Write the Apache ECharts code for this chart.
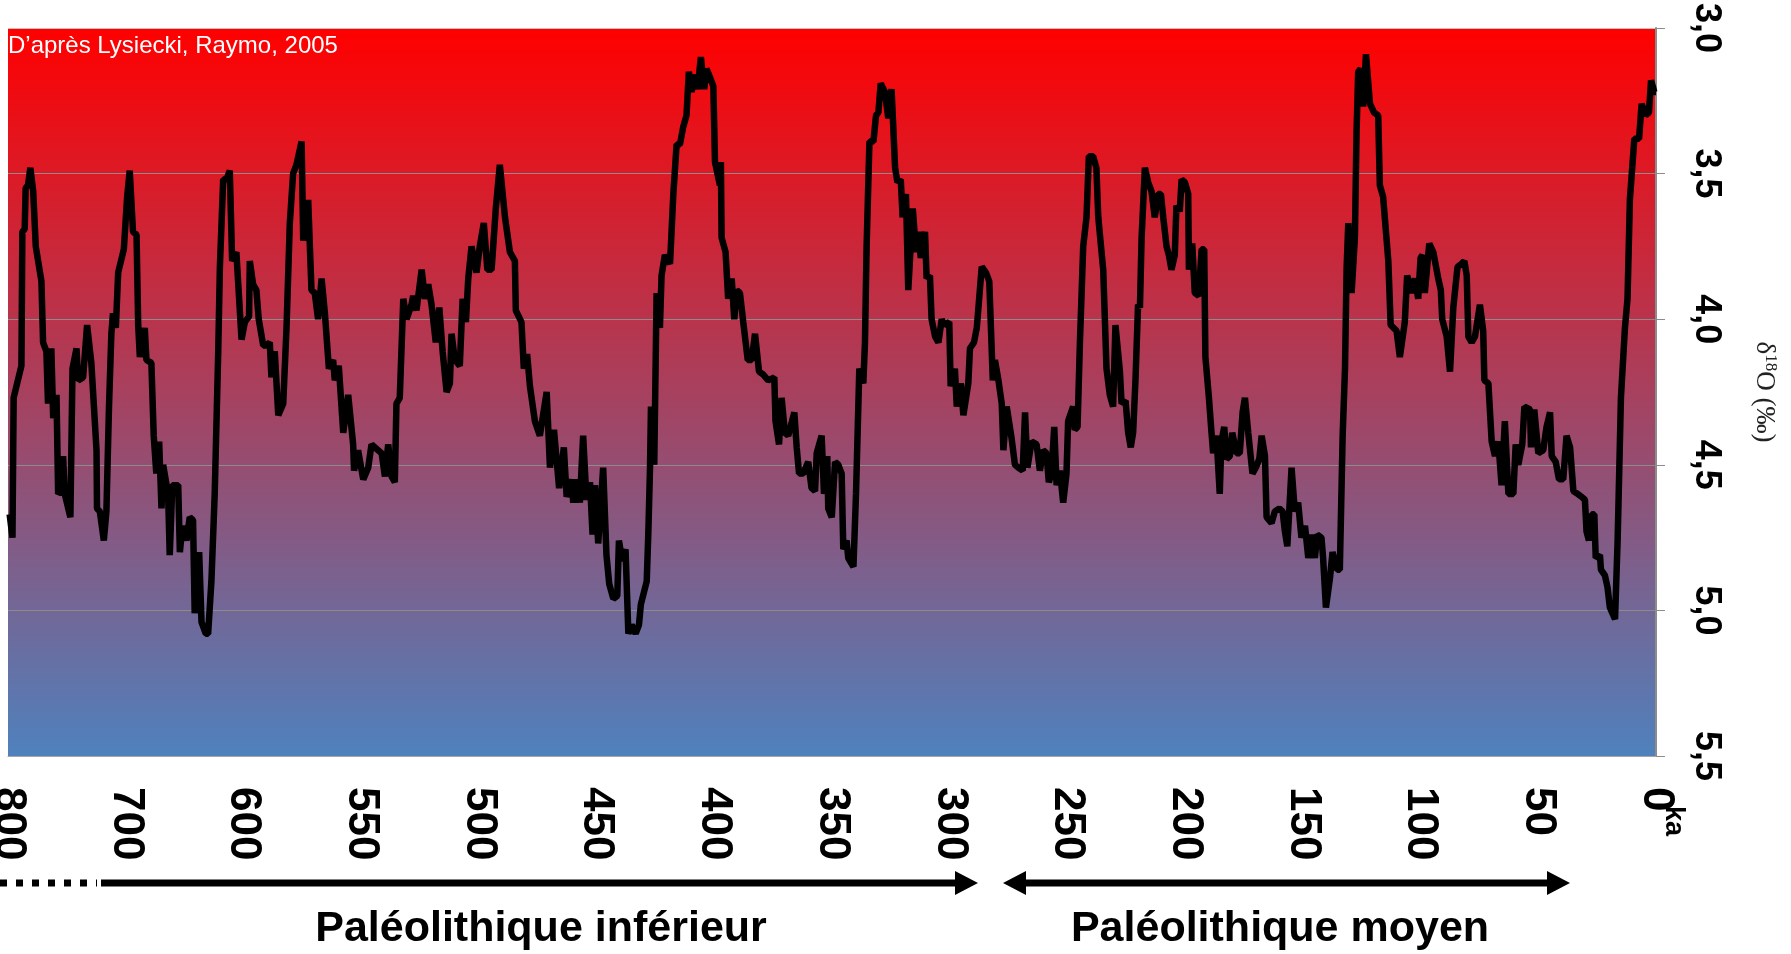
<!DOCTYPE html>
<html>
<head>
<meta charset="utf-8">
<script src="https://cdn.jsdelivr.net/npm/echarts@6/dist/echarts.min.js"></script>
<style>
  body { margin: 0; background: #fff; }
  #chart { width: 1791px; height: 954px; }
</style>
</head>
<body>
<div id="chart"></div>
<script>
// age (ka) and benthic d18O (permil)
const ages = [
  699.3, 698.1, 697.6, 694.3, 693.9, 692.9, 692.5, 691.5, 690.5, 689.3, 688.2, 685.8, 685.1, 683.7, 683.0, 681.6,
  680.8, 679.4, 678.7, 677.3, 676.6, 675.9, 673.5, 672.6, 670.9, 670.2, 668.1, 666.4, 664.6, 662.4, 662.2, 661.0,
  659.3, 658.2, 657.1, 656.1, 655.4, 654.2, 653.2, 650.8, 649.4, 648.3, 646.9, 645.4, 644.7, 644.0, 641.9, 641.2,
  639.1, 638.1, 637.0, 635.8, 634.8, 634.1, 632.0, 631.3, 630.2, 627.7, 627.0, 625.9, 624.2, 622.8, 621.4, 620.7,
  618.8, 617.8, 616.0, 615.0,
  613.6, 612.2, 610.7, 610.0, 608.6, 607.2, 605.8, 604.8, 603.0, 600.8, 599.4, 597.6, 597.3, 595.9, 594.5, 593.5,
  591.6, 590.2, 588.8, 588.1, 586.7, 585.2, 583.1, 581.7, 580.3, 578.9, 577.5, 575.3, 574.6, 572.5, 571.1, 569.7,
  568.3, 566.8, 565.4, 563.7, 561.9, 561.2, 559.5, 557.6, 555.5, 553.4, 553.0, 551.3, 549.1, 547.0, 545.6, 542.8,
  541.3, 539.9, 538.5, 537.1, 535.7, 535.0, 533.6, 532.1, 530.7,
  528.6, 527.9, 526.5, 524.3, 522.9, 521.5, 520.1, 518.3, 516.8, 515.4, 513.7, 512.3, 511.6, 510.2, 508.1, 506.9,
  505.5, 504.5, 503.1, 501.0, 499.6, 497.9, 496.4, 494.6, 492.8, 491.1, 488.9, 486.8, 484.7, 484.3, 481.9, 480.9,
  479.5, 478.3, 476.2, 474.1, 471.2, 469.8, 468.1, 465.9, 463.9, 462.7, 460.6, 459.9, 458.5, 457.1, 455.7, 454.3,
  452.8, 451.7, 450.7, 449.3, 447.2, 445.8, 444.6, 442.9, 441.2,
  440.5, 439.1, 437.7, 436.5, 435.1, 433.4, 432.0, 431.2, 428.7, 428.0, 427.3, 426.9, 425.5, 424.5, 423.1, 422.4,
  421.0, 418.8, 417.4, 416.0, 414.6, 413.2, 411.8, 410.8, 409.6, 408.5, 407.1, 405.7, 404.3, 403.3, 401.8, 400.4,
  399.7, 397.6, 397.2, 396.9, 395.2, 394.1, 392.6, 391.5, 390.5, 389.1, 387.7, 385.8, 384.1, 382.7, 381.0, 379.2,
  377.1, 374.5, 374.0, 372.5, 371.4, 370.0, 368.6, 366.0, 365.0, 364.0, 362.2, 360.1, 358.7, 357.2, 356.5,
  354.4, 353.4, 352.0, 351.6, 350.1, 348.7, 347.3, 345.9, 345.2, 343.8, 343.1, 340.9, 339.8, 338.4, 336.7, 336.0,
  335.3, 334.1, 332.4, 331.3, 330.3, 329.3, 327.5, 326.1, 324.7, 323.2, 322.2, 320.8, 320.0, 318.6, 317.6, 315.7,
  314.3, 313.3, 312.3, 310.5, 309.8, 308.4, 307.7, 306.2, 304.8, 303.4, 302.4, 300.2, 299.6, 297.8, 297.0, 295.3,
  294.2, 292.1, 291.4, 289.7, 288.5, 286.4, 284.6, 283.2, 281.7, 280.8, 279.3, 277.9, 277.2, 275.8, 273.7, 272.3,
  270.8, 269.0, 268.0, 267.0, 265.2,
  263.1, 261.7, 260.3, 258.9, 257.9, 256.8, 255.6, 254.6, 253.2, 251.8, 250.4, 249.7, 247.6, 246.9, 245.7, 244.7,
  243.3, 241.9, 240.9, 239.1, 237.7, 236.9, 234.8, 233.4, 232.0, 230.6, 229.6, 227.7, 227.0, 225.3, 224.2, 223.1,
  222.1, 221.1, 220.0, 219.2, 218.5, 217.1, 215.7, 214.3, 212.9, 211.5, 210.3, 209.3, 207.9, 206.9, 205.8, 204.4,
  203.7, 202.3, 201.5, 200.1, 198.7, 198.4, 197.0, 195.9, 194.2, 193.0, 191.9, 191.4, 189.9, 188.8, 188.1, 186.7,
  185.3, 184.6, 183.4, 182.4, 181.0, 180.0,
  178.2, 176.8, 175.6, 174.6, 173.2, 171.4, 170.0, 168.5, 167.5, 166.1, 165.4, 163.3, 161.9, 160.0, 158.6, 157.6,
  156.6, 154.8, 153.4, 152.0, 150.6, 149.1, 147.7, 146.3, 144.9, 143.9, 142.1, 141.4, 140.2, 138.5, 137.4, 135.4,
  134.3, 133.1, 132.1, 131.4, 130.7, 129.3, 127.9, 127.2, 126.5, 125.5, 124.4, 123.2, 121.5, 119.8, 118.0, 117.3,
  115.9, 113.7, 112.7, 110.2, 108.8, 106.7, 105.7, 103.8, 102.4, 101.0, 100.0, 99.2, 98.2, 96.3, 94.6,
  92.5, 91.4, 90.8, 88.9, 87.5, 86.1, 84.3, 82.6, 81.4, 80.4, 79.7, 78.3, 76.9, 74.8, 73.4, 72.9,
  71.2, 69.8, 68.4, 67.0, 65.6, 64.2, 62.7, 60.6, 59.6, 58.5, 56.8, 55.9, 53.5, 53.1, 51.7, 50.0,
  47.9, 46.5, 45.0, 44.3, 42.6, 41.2, 39.4, 38.0, 36.5, 35.1, 33.3, 31.6, 30.2, 29.5, 28.5, 27.3,
  26.2, 25.6, 23.8, 23.4, 21.7, 20.6, 19.6, 17.4, 16.3, 14.9, 13.2, 12.1, 11.1, 9.2, 7.2, 6.1,
  4.4, 3.0, 2.1, 0.7, 0.0
];
const d18O = [
  4.67, 4.75, 4.27, 4.16, 3.70, 3.69, 3.55, 3.54, 3.48, 3.56, 3.75, 3.87, 4.08, 4.11, 4.29, 4.10,
  4.34, 4.26, 4.60, 4.59, 4.47, 4.60, 4.68, 4.17, 4.10, 4.21, 4.20, 4.02, 4.15, 4.45, 4.65, 4.66,
  4.76, 4.66, 4.30, 4.05, 3.98, 4.03, 3.84, 3.76, 3.58, 3.49, 3.70, 3.71, 4.02, 4.13, 4.03, 4.14,
  4.15, 4.40, 4.53, 4.42, 4.65, 4.50, 4.60, 4.81, 4.57, 4.57, 4.80, 4.71, 4.76, 4.68, 4.69, 5.01,
  4.80, 5.04, 5.08, 5.08,
  4.90, 4.60, 4.11, 3.82, 3.52, 3.52, 3.49, 3.80, 3.77, 4.07, 4.01, 3.99, 3.80, 3.88, 3.90, 4.00,
  4.09, 4.09, 4.08, 4.20, 4.11, 4.33, 4.29, 4.03, 3.67, 3.50, 3.47, 3.39, 3.73, 3.59, 3.90, 3.91,
  4.00, 3.86, 3.98, 4.17, 4.14, 4.21, 4.16, 4.39, 4.26, 4.43, 4.52, 4.45, 4.55, 4.51, 4.43, 4.45,
  4.46, 4.54, 4.43, 4.54, 4.56, 4.29, 4.27, 3.93, 4.00,
  3.95, 3.92, 3.97, 3.83, 3.93, 3.88, 3.95, 4.08, 3.96, 4.11, 4.25, 4.22, 4.05, 4.14, 4.16, 3.93,
  4.01, 3.86, 3.75, 3.84, 3.75, 3.67, 3.83, 3.83, 3.62, 3.47, 3.65, 3.77, 3.80, 3.97, 4.01, 4.17,
  4.12, 4.23, 4.35, 4.40, 4.25, 4.51, 4.38, 4.58, 4.44, 4.61, 4.55, 4.63, 4.55, 4.63, 4.40, 4.62,
  4.56, 4.74, 4.57, 4.77, 4.51, 4.81, 4.91, 4.96, 4.95,
  4.76, 4.83, 4.79, 5.08, 5.05, 5.08, 5.05, 4.98, 4.90, 4.73, 4.51, 4.30, 4.50, 3.91, 4.03, 3.85,
  3.78, 3.81, 3.57, 3.40, 3.40, 3.34, 3.30, 3.15, 3.22, 3.16, 3.21, 3.10, 3.21, 3.14, 3.17, 3.20,
  3.46, 3.54, 3.46, 3.72, 3.77, 3.93, 3.86, 4.00, 3.90, 3.91, 4.01, 4.14, 4.14, 4.05, 4.18, 4.19,
  4.21, 4.20, 4.35, 4.43, 4.27, 4.39, 4.40, 4.32, 4.44, 4.53, 4.53, 4.49, 4.58, 4.59, 4.46,
  4.40, 4.60, 4.47, 4.65, 4.68, 4.49, 4.50, 4.53, 4.79, 4.76, 4.82, 4.85, 4.60, 4.17, 4.22, 4.08,
  3.75, 3.39, 3.39, 3.30, 3.29, 3.19, 3.22, 3.31, 3.21, 3.48, 3.53, 3.52, 3.65, 3.57, 3.90, 3.62,
  3.77, 3.70, 3.79, 3.70, 3.86, 3.85, 4.00, 4.06, 4.08, 4.00, 4.02, 4.01, 4.23, 4.17, 4.30, 4.22,
  4.33, 4.22, 4.10, 4.08, 4.03, 3.82, 3.84, 3.87, 4.21, 4.14, 4.21, 4.29, 4.45, 4.30, 4.41, 4.50,
  4.51, 4.52, 4.32, 4.51, 4.42,
  4.43, 4.52, 4.45, 4.46, 4.56, 4.53, 4.37, 4.57, 4.52, 4.63, 4.53, 4.35, 4.30, 4.38, 4.37, 4.08,
  3.75, 3.65, 3.44, 3.44, 3.48, 3.65, 3.83, 4.17, 4.26, 4.30, 4.02, 4.18, 4.29, 4.28, 4.39, 4.44,
  4.39, 4.21, 3.95, 3.96, 3.72, 3.48, 3.53, 3.56, 3.65, 3.57, 3.57, 3.65, 3.75, 3.78, 3.83, 3.78,
  3.61, 3.63, 3.52, 3.53, 3.57, 3.83, 3.74, 3.91, 3.92, 3.76, 3.76, 4.13, 4.27, 4.39, 4.46, 4.40,
  4.60, 4.42, 4.37, 4.48, 4.47, 4.39,
  4.46, 4.46, 4.32, 4.27, 4.39, 4.53, 4.51, 4.48, 4.40, 4.47, 4.68, 4.70, 4.66, 4.65, 4.66, 4.73,
  4.78, 4.51, 4.66, 4.63, 4.75, 4.71, 4.82, 4.74, 4.82, 4.74, 4.75, 4.82, 4.99, 4.89, 4.80, 4.86,
  4.86, 4.40, 4.17, 3.82, 3.67, 3.91, 3.72, 3.36, 3.15, 3.14, 3.27, 3.09, 3.26, 3.29, 3.30, 3.54,
  3.58, 3.80, 4.02, 4.04, 4.13, 4.01, 3.85, 3.91, 3.86, 3.93, 3.79, 3.78, 3.91, 3.74, 3.77,
  3.86, 3.90, 4.00, 4.06, 4.18, 3.96, 3.82, 3.81, 3.80, 3.85, 4.06, 4.08, 4.06, 3.95, 4.04, 4.21,
  4.22, 4.42, 4.47, 4.42, 4.57, 4.35, 4.60, 4.60, 4.43, 4.50, 4.43, 4.30, 4.31, 4.44, 4.31, 4.46,
  4.45, 4.37, 4.32, 4.47, 4.49, 4.55, 4.55, 4.40, 4.44, 4.59, 4.60, 4.61, 4.62, 4.73, 4.76, 4.67,
  4.67, 4.82, 4.81, 4.86, 4.88, 4.92, 4.99, 5.03, 4.76, 4.27, 4.03, 3.93, 3.59, 3.38, 3.38, 3.26,
  3.30, 3.29, 3.18, 3.22, 3.22
];

// tick positions (ka) and the labels printed under them
const xTickValues = [700, 650, 600, 550, 500, 450, 400, 350, 300, 250, 200, 150, 100, 50, 0];
const xTickText = ['800', '700', '600', '550', '500', '450', '400', '350', '300', '250', '200', '150', '100', '50', '0'];
const yTickText = ['3,0', '3,5', '4,0', '4,5', '5,0', '5,5'];

const font = "'Liberation Sans', Arial, sans-serif";
const serif = "'Liberation Serif', 'Times New Roman', serif";
const chart = echarts.init(document.getElementById('chart'));

const option = {
  animation: false,
  grid: {
    left: 8,
    right: 135,
    top: 28,
    bottom: 198,
    containLabel: false,
    outerBoundsMode: 'none',
    show: true,
    borderWidth: 0,
    backgroundColor: {
      type: 'linear', x: 0, y: 0, x2: 0, y2: 1,
      colorStops: [
        { offset: 0, color: '#ff0000' },
        { offset: 1, color: '#4f81bd' }
      ]
    }
  },
  xAxis: {
    type: 'value',
    min: 0,
    max: 700,
    interval: 50,
    inverse: true,
    axisLine: { show: true, lineStyle: { color: '#a6a6a6', width: 1 } },
    axisTick: { show: false },
    splitLine: { show: false },
    axisLabel: {
      rotate: -90,
      margin: 31,
      showMinLabel: true,
      showMaxLabel: true,
      color: '#000',
      fontFamily: font,
      fontWeight: 'bold',
      fontSize: 44,
      formatter: v => {
        const i = xTickValues.indexOf(v);
        return i >= 0 ? xTickText[i] : '';
      }
    }
  },
  yAxis: {
    type: 'value',
    position: 'right',
    inverse: true,
    min: 3,
    max: 5.5,
    interval: 0.5,
    axisLine: { show: true, lineStyle: { color: '#8c8c8c', width: 2 } },
    axisTick: { show: true, length: 9, lineStyle: { color: '#8c8c8c' } },
    splitLine: {
      show: true,
      lineStyle: { color: ['#c4c4c4', '#8c8c8c', '#8c8c8c', '#8c8c8c', '#8c8c8c', '#8c8c8c'], width: 1 }
    },
    axisLabel: {
      rotate: -90,
      margin: 32,
      color: '#000',
      fontFamily: font,
      fontWeight: 'bold',
      fontSize: 36,
      formatter: v => yTickText[Math.round((v - 3) / 0.5)]
    },
    name: '{d|δ}{s|18}{d|O (‰)}',
    nameLocation: 'middle',
    nameRotate: -90,
    nameGap: 93,
    nameTextStyle: {
      rich: {
        d: { fontFamily: serif, fontSize: 27, color: '#222', lineHeight: 30 },
        s: { fontFamily: serif, fontSize: 17, color: '#222', verticalAlign: 'top', lineHeight: 30 }
      }
    }
  },
  series: [
    {
      type: 'line',
      data: ages.map((a, i) => [a, d18O[i]]),
      showSymbol: false,
      lineStyle: { color: '#000', width: 6.5 },
      clip: false
    }
  ],
  graphic: [
    {
      type: 'text', x: 8, y: 46,
      style: { text: 'D’après Lysiecki, Raymo, 2005', fill: '#fff', font: '24px ' + font, verticalAlign: 'middle' }
    },
    {
      type: 'text', x: 1673, y: 821, rotation: -Math.PI / 2,
      style: { text: 'ka', fill: '#000', font: 'bold 27px ' + font, align: 'center', verticalAlign: 'middle' }
    },
    // period arrows
    { type: 'line', shape: { x1: 0, y1: 883, x2: 97, y2: 883 }, style: { stroke: '#000', lineWidth: 7, lineDash: [7, 9] } },
    { type: 'line', shape: { x1: 101, y1: 883, x2: 958, y2: 883 }, style: { stroke: '#000', lineWidth: 7 } },
    { type: 'polygon', shape: { points: [[955, 871], [978, 883], [955, 895]] }, style: { fill: '#000' } },
    { type: 'line', shape: { x1: 1022, y1: 883, x2: 1551, y2: 883 }, style: { stroke: '#000', lineWidth: 7 } },
    { type: 'polygon', shape: { points: [[1026, 871], [1003, 883], [1026, 895]] }, style: { fill: '#000' } },
    { type: 'polygon', shape: { points: [[1547, 871], [1570, 883], [1547, 895]] }, style: { fill: '#000' } },
    {
      type: 'text', x: 541, y: 929,
      style: { text: 'Paléolithique inférieur', fill: '#000', font: 'bold 43px ' + font, align: 'center', verticalAlign: 'middle' }
    },
    {
      type: 'text', x: 1280, y: 929,
      style: { text: 'Paléolithique moyen', fill: '#000', font: 'bold 43px ' + font, align: 'center', verticalAlign: 'middle' }
    }
  ]
};

chart.setOption(option);
</script>
</body>
</html>
